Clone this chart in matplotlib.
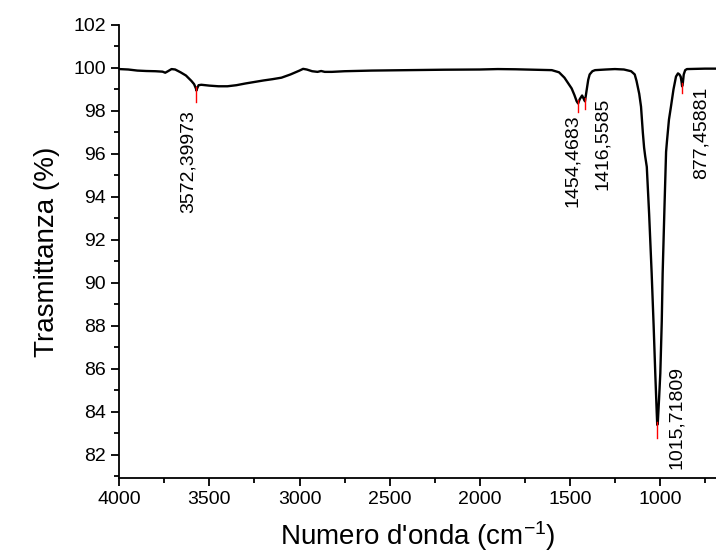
import matplotlib
matplotlib.use("Agg")
import matplotlib.pyplot as plt
from matplotlib.ticker import MultipleLocator

plt.rcParams['font.family'] = ['Liberation Sans', 'DejaVu Sans']
plt.rcParams['mathtext.default'] = 'regular'

# FTIR spectrum
wavenumber = [4000, 3950, 3900, 3850, 3800, 3760, 3745, 3730, 3710, 3690, 3660, 3630,
              3600, 3585, 3575, 3572, 3568, 3560, 3545, 3500, 3450, 3400, 3350, 3300,
              3250, 3200, 3150, 3100, 3050, 3000, 2980, 2960, 2930, 2900, 2880, 2860,
              2820, 2750, 2600, 2400, 2200, 2000, 1900, 1800, 1700, 1600, 1560, 1530,
              1510, 1490, 1475, 1462, 1454, 1445, 1432, 1422, 1416, 1408, 1398, 1390,
              1375, 1360, 1300, 1250, 1200, 1160, 1140, 1130, 1115, 1105, 1095, 1088,
              1082, 1073, 1060, 1046, 1035, 1026, 1018, 1015, 1012, 1005, 998, 990,
              985, 975, 966, 961, 950, 939, 925, 911, 900, 892, 885, 880, 877, 873,
              868, 860, 850, 800, 750, 700, 689]
transmittance = [99.95, 99.93, 99.88, 99.86, 99.85, 99.83, 99.78, 99.85, 99.95, 99.93, 99.8, 99.65,
                 99.4, 99.25, 99.05, 98.95, 99.05, 99.2, 99.22, 99.18, 99.15, 99.15, 99.2, 99.28,
                 99.35, 99.42, 99.48, 99.55, 99.7, 99.88, 99.96, 99.93, 99.85, 99.82, 99.86, 99.82,
                 99.82, 99.85, 99.88, 99.9, 99.92, 99.93, 99.95, 99.94, 99.92, 99.9, 99.8, 99.55,
                 99.3, 99.05, 98.75, 98.45, 98.35, 98.55, 98.72, 98.55, 98.45, 98.9, 99.45, 99.7,
                 99.85, 99.9, 99.93, 99.95, 99.93, 99.85, 99.7, 99.4, 98.8, 98.2, 97.0, 96.3,
                 95.9, 95.4, 93.2, 90.45, 88.0, 85.8, 84.0, 83.4, 83.5, 84.6, 85.8, 88.2,
                 90.45, 93.5, 96.1, 96.6, 97.6, 98.2, 99.0, 99.6, 99.75, 99.7, 99.6, 99.35, 99.15, 99.3,
                 99.7, 99.9, 99.95, 99.96, 99.97, 99.97, 99.97]

# marked peaks
peak_pos = [3572.39973, 1454.4683, 1416.5585, 1015.71809, 877.45881]
peak_text = ["3572,39973", "1454,4683", "1416,5585", "1015,71809", "877,45881"]
peak_top = [98.95, 98.35, 98.45, 83.4, 99.15]
peak_tip = [98.43, 97.97, 98.1, 82.8, 98.82]
# label offsets in points (dx, dy of the label end relative to the red tip)
label_off = [(-6, -6), (-4, -2), (13, 8), (14, 52), (14, 5)]

fig = plt.figure(figsize=(7.16, 5.58), dpi=100)
ax = fig.add_axes([0.1666, 0.1434, 0.8334, 0.8118])

ax.plot(wavenumber, transmittance, color="black", lw=1.7)
for x, top, tip, txt, off in zip(peak_pos, peak_top, peak_tip, peak_text, label_off):
    ax.plot([x, x], [top + 0.15, tip], color="red", lw=1.0)
    ax.annotate(txt, xy=(x, tip), xytext=off, textcoords="offset points",
                rotation=90, ha="center", va="top", fontsize=14)

ax.set_xlim(4000, 689)
ax.set_ylim(80.93, 102)
ax.xaxis.set_major_locator(MultipleLocator(500))
ax.xaxis.set_minor_locator(MultipleLocator(250))
ax.yaxis.set_major_locator(MultipleLocator(2))
ax.yaxis.set_minor_locator(MultipleLocator(1))
ax.spines["top"].set_visible(False)
ax.spines["right"].set_visible(False)
ax.spines["left"].set_linewidth(1.3)
ax.spines["bottom"].set_linewidth(1.3)
ax.tick_params(which="major", length=6, width=1.3, labelsize=14)
ax.tick_params(which="minor", length=3.5, width=1.3)

ax.set_xlabel("Numero d'onda (cm$^{-1}$)", fontsize=20, labelpad=8)
ax.set_ylabel("Trasmittanza (%)", fontsize=20, labelpad=10)

fig.savefig("out.png", dpi=100)
